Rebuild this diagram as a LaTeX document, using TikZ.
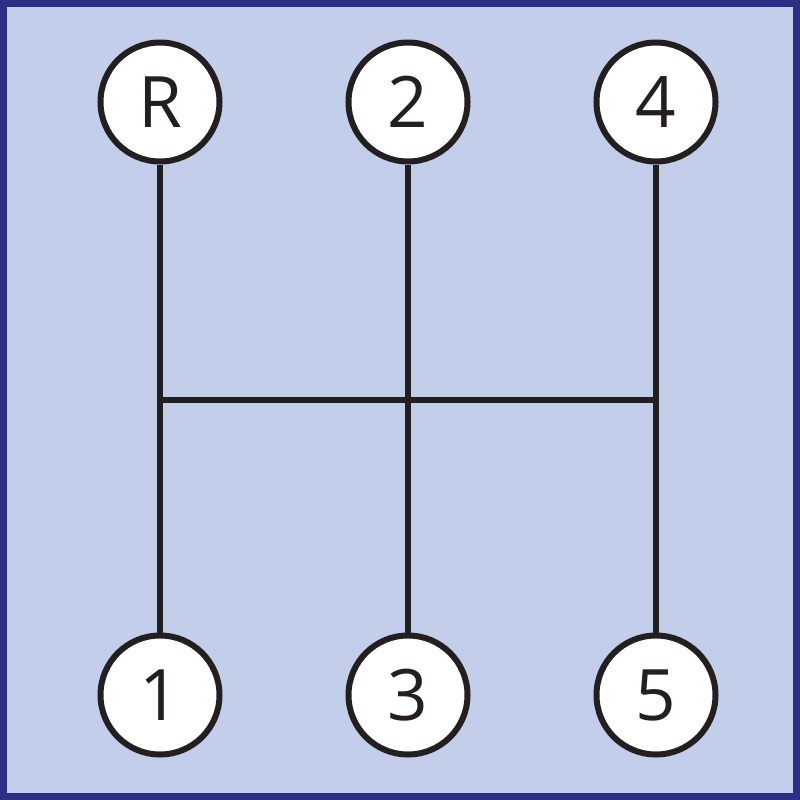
\documentclass[tikz,border=0pt]{standalone}
\usepackage{fontspec}
\setmainfont{Open Sans}
\definecolor{bgblue}{HTML}{C2CEEA}
\definecolor{frameblue}{HTML}{2B2E83}
\definecolor{ink}{HTML}{231F20}
\begin{document}
\begin{tikzpicture}[x=1pt,y=-1pt,
  gear/.style={circle,draw=ink,line width=6pt,fill=white,minimum size=119pt,inner sep=0pt,font=\fontsize{71}{71}\selectfont,text=ink},
  rod/.style={draw=ink,line width=5.5pt}]
\useasboundingbox (0,0) rectangle (800,800);
\fill[bgblue] (0,0) rectangle (800,800);
\draw[frameblue,line width=7pt] (3.5,3.5) rectangle (796.5,796.5);
\coordinate (hl) at (160,400);
\coordinate (hm) at (408,400);
\coordinate (hr) at (656,400);
\draw[rod] (hl) -- (hr);
\node[gear] (R) at (160,102) {R};
\node[gear] (g2) at (408,102) {2};
\node[gear] (g4) at (656,102) {4};
\node[gear] (g1) at (160,695) {1};
\node[gear] (g3) at (408,695) {3};
\node[gear] (g5) at (656,695) {5};
\draw[rod] (R) -- (g1);
\draw[rod] (g2) -- (g3);
\draw[rod] (g4) -- (g5);
\end{tikzpicture}
\end{document}
